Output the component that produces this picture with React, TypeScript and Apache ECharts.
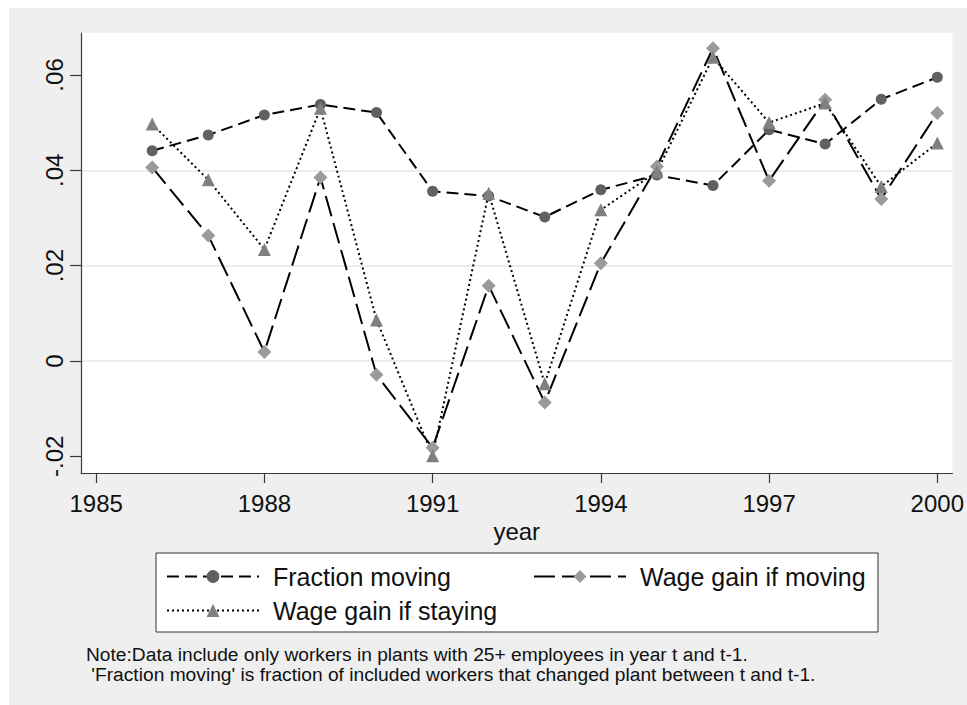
import React, { useEffect, useRef } from "react";
import * as echarts from "echarts";

const years = [1986, 1987, 1988, 1989, 1990, 1991, 1992, 1993, 1994, 1995, 1996, 1997, 1998, 1999, 2000];
const fractionMoving = [0.0441, 0.0474, 0.0516, 0.0538, 0.0521, 0.0356, 0.0346, 0.0302, 0.0359, 0.039, 0.0368, 0.0485, 0.0455, 0.0549, 0.0595];
const wageGainMoving = [0.0406, 0.0263, 0.0019, 0.0385, -0.0029, -0.0182, 0.0158, -0.0087, 0.0205, 0.0408, 0.0656, 0.0378, 0.0548, 0.034, 0.052];
const wageGainStaying = [0.0497, 0.038, 0.0234, 0.053, 0.0086, -0.0199, 0.0352, -0.0048, 0.0317, 0.0397, 0.0637, 0.05, 0.0541, 0.0366, 0.0457];
const xTicks = [1985, 1988, 1991, 1994, 1997, 2000];
const yTicks = [-0.02, 0, 0.02, 0.04, 0.06];
const seriesNames = ["Fraction moving", "Wage gain if moving", "Wage gain if staying"];
const noteLines = [
  "Note:Data include only workers in plants with 25+ employees in year t and t-1.",
  " 'Fraction moving' is fraction of included workers that changed plant between t and t-1.",
];

const FONT = "'Liberation Sans', Arial, Helvetica, sans-serif";

export default function App() {
  const ref = useRef<HTMLDivElement>(null);
  useEffect(() => {
    document.body.style.margin = "0";
    const chart = echarts.init(ref.current!, null, { renderer: "svg" });
    const pair = (arr: number[]) => years.map((y, i) => [y, arr[i]]);
    const axisColor = "#3a3a3a";
    const legendCommon = {
      orient: "horizontal",
      itemWidth: 92,
      itemHeight: 16,
      padding: 0,
      selectedMode: false,
      textStyle: { fontFamily: FONT, fontSize: 25, color: "#111", padding: [0, 0, 0, 9] },
    };
    chart.setOption({
      animation: false,
      backgroundColor: "#efefef",
      grid: {
        left: 72,
        top: 25,
        right: 14,
        bottom: 232,
        show: true,
        backgroundColor: "#ffffff",
        borderWidth: 0,
      },
      xAxis: {
        type: "value",
        min: 1984.73,
        max: 2000.27,
        name: "year",
        nameLocation: "middle",
        nameGap: 40,
        nameTextStyle: { fontFamily: FONT, fontSize: 24, color: "#111" },
        axisLine: { show: true, onZero: false, lineStyle: { color: axisColor, width: 1.2 } },
        axisTick: { show: true, length: 10, customValues: xTicks, lineStyle: { color: axisColor, width: 1.2 } },
        axisLabel: {
          customValues: xTicks,
          margin: 18,
          fontFamily: FONT,
          fontSize: 24,
          color: "#111",
          formatter: (v: number) => String(v),
        },
        splitLine: { show: false },
      },
      yAxis: {
        type: "value",
        min: -0.0235,
        max: 0.0688,
        axisLine: { show: true, onZero: false, lineStyle: { color: axisColor, width: 1.2 } },
        axisTick: { show: true, length: 11, customValues: yTicks, lineStyle: { color: axisColor, width: 1.2 } },
        axisLabel: {
          customValues: yTicks,
          rotate: 90,
          margin: 15,
          fontFamily: FONT,
          fontSize: 24,
          color: "#111",
          formatter: (v: number) => (Math.abs(v) < 1e-9 ? "0" : v.toFixed(2).replace("0.", ".")),
        },
        splitLine: {
          show: true,
          showMinLine: false,
          showMaxLine: false,
          lineStyle: { color: "#e6e6e6", width: 1.5 },
        },
      },
      legend: [
        { ...legendCommon, data: [seriesNames[0]], left: 157, top: 556 },
        { ...legendCommon, data: [seriesNames[1]], left: 524, top: 556 },
        { ...legendCommon, data: [seriesNames[2]], left: 157, top: 590 },
      ],
      graphic: [
        {
          type: "rect",
          z: -1,
          shape: { x: 147, y: 545, width: 722, height: 79 },
          style: { fill: "#ffffff", stroke: "#333333", lineWidth: 1 },
        },
        {
          type: "text",
          left: 77,
          top: 637,
          style: {
            text: noteLines[0],
            fontFamily: FONT,
            fontSize: 19.2,
            lineHeight: 19.2,
            fill: "#111",
          },
        },
        {
          type: "text",
          left: 77,
          top: 656.5,
          style: {
            text: noteLines[1],
            fontFamily: FONT,
            fontSize: 19.2,
            lineHeight: 19.2,
            fill: "#111",
          },
        },
      ],
      series: [
        {
          name: seriesNames[0],
          type: "line",
          data: pair(fractionMoving),
          symbol: "circle",
          symbolSize: 11,
          itemStyle: { color: "#606060" },
          lineStyle: { color: "#000", width: 2, type: [12, 6] },
        },
        {
          name: seriesNames[1],
          type: "line",
          data: pair(wageGainMoving),
          symbol: "diamond",
          symbolSize: 14,
          itemStyle: { color: "#9a9a9a" },
          lineStyle: { color: "#000", width: 2, type: [21, 7] },
        },
        {
          name: seriesNames[2],
          type: "line",
          data: pair(wageGainStaying),
          symbol: "triangle",
          symbolSize: 13,
          itemStyle: { color: "#808080" },
          lineStyle: { color: "#000", width: 2, type: [2, 3] },
        },
      ],
    });
    return () => chart.dispose();
  }, []);
  return (
    <div
      ref={ref}
      style={{ position: "absolute", left: 9, top: 8, width: 958, height: 697 }}
    />
  );
}
